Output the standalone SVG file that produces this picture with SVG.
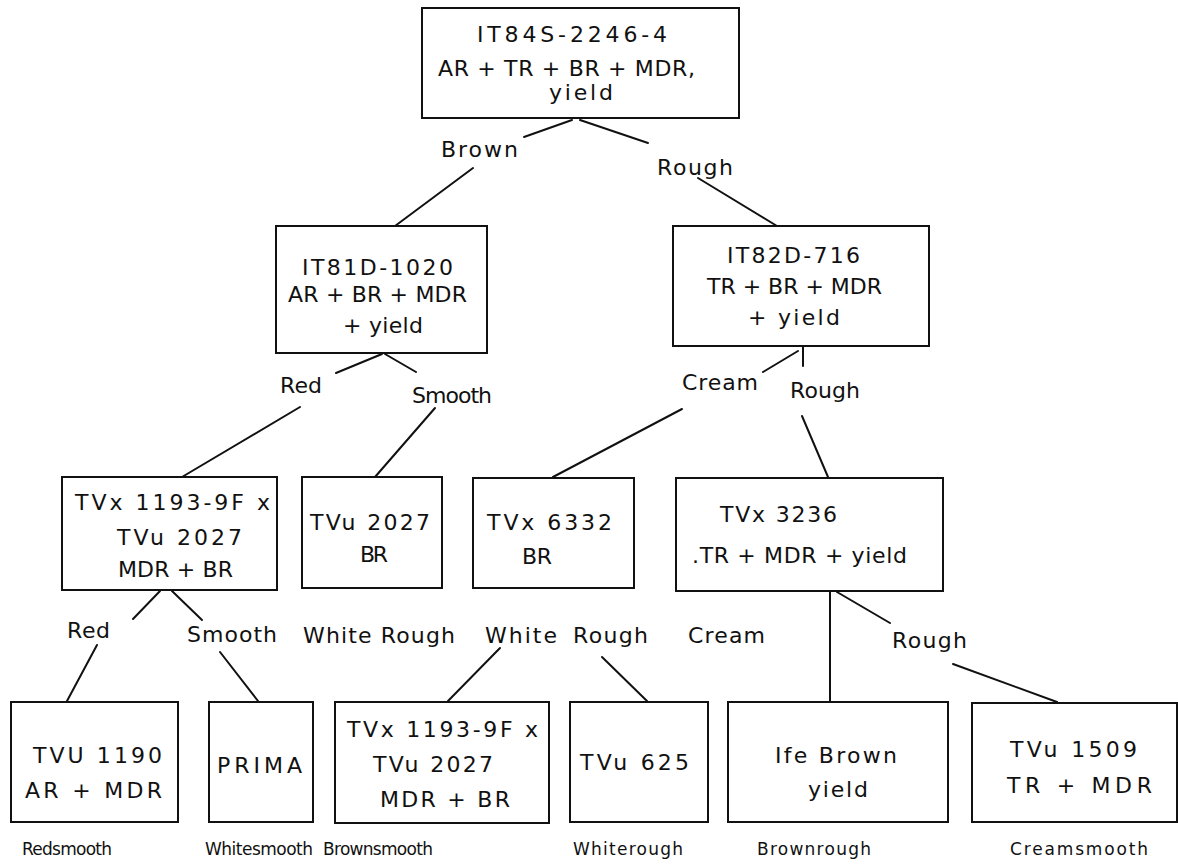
<svg xmlns="http://www.w3.org/2000/svg" width="1178" height="864" viewBox="0 0 1178 864">
<style>
rect{fill:#fff;stroke:#111;stroke-width:2}
text{font-family:"DejaVu Sans","Liberation Sans",sans-serif;font-size:22px;fill:#111}
text.s{font-size:17px}
#connectors line{stroke:#111;stroke-width:2;stroke-linecap:round}
</style>
<rect x="0" y="0" width="1178" height="864" style="fill:#fff;stroke:none"/>
<g id="connectors">
<line x1="572" y1="120" x2="524" y2="137"/>
<line x1="473" y1="168" x2="395" y2="226"/>
<line x1="580" y1="120" x2="648" y2="143"/>
<line x1="698" y1="178" x2="777" y2="226"/>
<line x1="382" y1="354" x2="336" y2="373"/>
<line x1="385" y1="354" x2="416" y2="372"/>
<line x1="300" y1="407" x2="182" y2="477"/>
<line x1="435" y1="408" x2="375" y2="477"/>
<line x1="798" y1="351" x2="763" y2="372"/>
<line x1="803" y1="347" x2="803" y2="366"/>
<line x1="682" y1="409" x2="553" y2="477"/>
<line x1="802" y1="416" x2="828" y2="477"/>
<line x1="160" y1="591" x2="133" y2="619"/>
<line x1="172" y1="591" x2="202" y2="620"/>
<line x1="830" y1="591" x2="830" y2="701"/>
<line x1="837" y1="592" x2="890" y2="623"/>
<line x1="97" y1="645" x2="67" y2="701"/>
<line x1="220" y1="652" x2="258" y2="701"/>
<line x1="500" y1="648" x2="448" y2="701"/>
<line x1="602" y1="657" x2="647" y2="701"/>
<line x1="953" y1="664" x2="1057" y2="702"/>
</g>
<g id="edge-labels">
<text x="441" y="157" textLength="77" lengthAdjust="spacing">Brown</text>
<text x="657" y="175" textLength="76" lengthAdjust="spacing">Rough</text>
<text x="280" y="393" textLength="42" lengthAdjust="spacing">Red</text>
<text x="412" y="403" textLength="80" lengthAdjust="spacing">Smooth</text>
<text x="682" y="390" textLength="76" lengthAdjust="spacing">Cream</text>
<text x="790" y="398" textLength="70" lengthAdjust="spacing">Rough</text>
<text x="67" y="638" textLength="43" lengthAdjust="spacing">Red</text>
<text x="187" y="642" textLength="90" lengthAdjust="spacing">Smooth</text>
<text x="303" y="643" textLength="152" lengthAdjust="spacing">White Rough</text>
<text x="485" y="643" textLength="72" lengthAdjust="spacing">White</text>
<text x="573" y="643" textLength="75" lengthAdjust="spacing">Rough</text>
<text x="688" y="643" textLength="77" lengthAdjust="spacing">Cream</text>
<text x="892" y="648" textLength="75" lengthAdjust="spacing">Rough</text>
</g>
<g id="n-IT84S">
<rect x="422" y="8" width="317" height="110"/>
<text x="477" y="42" textLength="190" lengthAdjust="spacing">IT84S-2246-4</text>
<text x="438" y="76" textLength="257" lengthAdjust="spacing">AR + TR + BR + MDR,</text>
<text x="549" y="100" textLength="64" lengthAdjust="spacing">yield</text>
</g>
<g id="n-IT81D">
<rect x="276" y="226" width="211" height="127"/>
<text x="302" y="275" textLength="151" lengthAdjust="spacing">IT81D-1020</text>
<text x="288" y="302" textLength="179" lengthAdjust="spacing">AR + BR + MDR</text>
<text x="343" y="333" textLength="80" lengthAdjust="spacing">+ yield</text>
</g>
<g id="n-IT82D">
<rect x="673" y="226" width="256" height="120"/>
<text x="727" y="263" textLength="133" lengthAdjust="spacing">IT82D-716</text>
<text x="707" y="294" textLength="175" lengthAdjust="spacing">TR + BR + MDR</text>
<text x="748" y="325" textLength="92" lengthAdjust="spacing">+ yield</text>
</g>
<g id="n-TVx1193a">
<rect x="62" y="477" width="215" height="113"/>
<text x="75" y="510" textLength="195" lengthAdjust="spacing">TVx 1193-9F x</text>
<text x="117" y="545" textLength="125" lengthAdjust="spacing">TVu 2027</text>
<text x="118" y="577" textLength="115" lengthAdjust="spacing">MDR + BR</text>
</g>
<g id="n-TVu2027">
<rect x="302" y="477" width="140" height="111"/>
<text x="310" y="530" textLength="120" lengthAdjust="spacing">TVu 2027</text>
<text x="360" y="562" textLength="28" lengthAdjust="spacing">BR</text>
</g>
<g id="n-TVx6332">
<rect x="473" y="478" width="161" height="110"/>
<text x="487" y="530" textLength="125" lengthAdjust="spacing">TVx 6332</text>
<text x="522" y="564" textLength="30" lengthAdjust="spacing">BR</text>
</g>
<g id="n-TVx3236">
<rect x="676" y="478" width="267" height="113"/>
<text x="720" y="522" textLength="117" lengthAdjust="spacing">TVx 3236</text>
<text x="692" y="563" textLength="215" lengthAdjust="spacing">.TR + MDR + yield</text>
</g>
<g id="n-TVU1190">
<rect x="11" y="702" width="167" height="120"/>
<text x="33" y="763" textLength="129" lengthAdjust="spacing">TVU 1190</text>
<text x="25" y="798" textLength="137" lengthAdjust="spacing">AR + MDR</text>
<text class="s" x="22" y="855" textLength="90" lengthAdjust="spacing">Redsmooth</text>
</g>
<g id="n-PRIMA">
<rect x="209" y="702" width="104" height="120"/>
<text x="217" y="773" textLength="85" lengthAdjust="spacing">PRIMA</text>
<text class="s" x="205" y="855" textLength="108" lengthAdjust="spacing">Whitesmooth</text>
</g>
<g id="n-TVx1193b">
<rect x="335" y="702" width="214" height="121"/>
<text x="347" y="737" textLength="191" lengthAdjust="spacing">TVx 1193-9F x</text>
<text x="373" y="772" textLength="120" lengthAdjust="spacing">TVu 2027</text>
<text x="380" y="807" textLength="130" lengthAdjust="spacing">MDR + BR</text>
<text class="s" x="323" y="855" textLength="110" lengthAdjust="spacing">Brownsmooth</text>
</g>
<g id="n-TVu625">
<rect x="570" y="702" width="138" height="120"/>
<text x="580" y="770" textLength="109" lengthAdjust="spacing">TVu 625</text>
<text class="s" x="573" y="855" textLength="110" lengthAdjust="spacing">Whiterough</text>
</g>
<g id="n-IfeBrown">
<rect x="728" y="702" width="220" height="120"/>
<text x="775" y="763" textLength="122" lengthAdjust="spacing">Ife Brown</text>
<text x="808" y="797" textLength="60" lengthAdjust="spacing">yield</text>
<text class="s" x="757" y="855" textLength="114" lengthAdjust="spacing">Brownrough</text>
</g>
<g id="n-TVu1509">
<rect x="972" y="703" width="205" height="119"/>
<text x="1010" y="757" textLength="127" lengthAdjust="spacing">TVu 1509</text>
<text x="1007" y="793" textLength="145" lengthAdjust="spacing">TR + MDR</text>
<text class="s" x="1010" y="855" textLength="138" lengthAdjust="spacing">Creamsmooth</text>
</g>
</svg>
